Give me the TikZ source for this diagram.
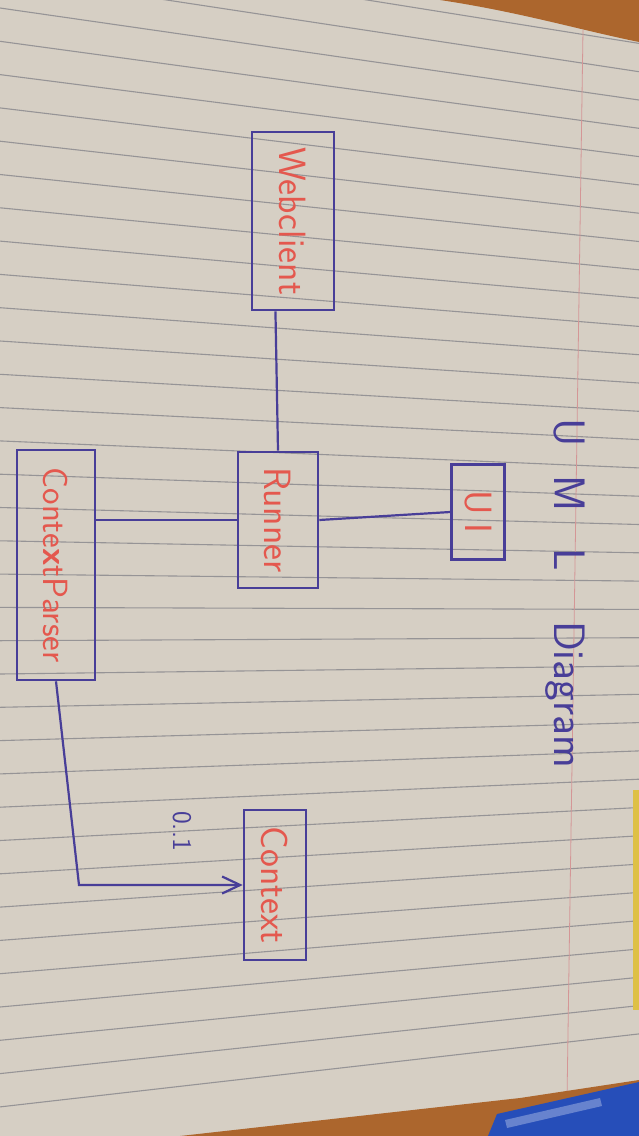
\documentclass[tikz,border=0pt]{standalone}
\usepackage{fontspec}
\usepackage{graphicx}
\usetikzlibrary{arrows.meta, positioning}

\definecolor{paper}{RGB}{214,207,196}
\definecolor{ruleline}{RGB}{150,148,150}
\definecolor{marginred}{RGB}{212,150,150}
\definecolor{wood}{RGB}{172,102,45}
\definecolor{pen}{RGB}{38,78,185}
\definecolor{ink}{RGB}{72,62,152}
\definecolor{redink}{RGB}{228,88,78}
\definecolor{note}{RGB}{222,192,70}

\newcommand{\vlabel}[1]{\rotatebox{-90}{#1}}

\begin{document}
\begin{tikzpicture}[x=1pt, y=-1pt,
 umlbox/.style={rectangle, draw=ink, line width=2.6pt, inner sep=0pt, text=redink, font=\sffamily\fontsize{38}{40}\selectfont},
 link/.style={draw=ink, line width=2.2pt},
 ruled/.style={draw=ruleline, line width=1.1pt},
 ]
 \useasboundingbox (0,0) rectangle (639,1136);
 \clip (0,0) rectangle (639,1136);

 %Paper
 \fill[paper] (0,0) rectangle (639,1136);
 \foreach \i in {-2,...,33}
   \draw[ruled] (0,{8+33.3*\i}) -- (639,{100+28.3*\i});
 \draw[marginred, line width=0.8pt] (583,30) -- (567,1100);
 \fill[note] (633,790) rectangle (639,1010);

 %Table and pen
 \fill[wood] (440,0) .. controls (520,12) and (580,30) .. (639,42) -- (639,0) -- cycle;
 \fill[wood] (180,1136) -- (520,1098) -- (639,1080) -- (639,1136) -- cycle;
 \fill[pen] (488,1136) -- (497,1114) -- (639,1082) -- (639,1136) -- cycle;
 \fill[pen!70!white] (505,1120) -- (600,1098) -- (602,1106) -- (507,1128) -- cycle;

 %Nodes
 \node[umlbox, minimum width=82, minimum height=178] (webclient) at (293,221) {\vlabel{Webclient}};
 \node[umlbox, minimum width=80, minimum height=136] (runner) at (278,520) {\vlabel{Runner}};
 \node[umlbox, minimum width=53, minimum height=95] (ui) at (478,512) {\vlabel{U\hspace{8pt}I}};
 \node[umlbox, minimum width=78, minimum height=230, font=\sffamily\fontsize{35}{38}\selectfont] (cparser) at (56,565) {\vlabel{Conte\textbf{x}tParser}};
 \node[umlbox, minimum width=62, minimum height=150] (context) at (275,885) {\vlabel{Context}};

 \node[rotate=-90, anchor=west, inner sep=0pt, text=ink, font=\sffamily\fontsize{44}{46}\selectfont] (title) at (565,418) {U\hspace{29pt}M\hspace{37pt}L\hspace{50pt}Diagram};
 \node[rotate=-90, inner sep=0pt, text=ink, font=\sffamily\fontsize{27}{29}\selectfont] (mult) at (182,831) {0..1};
 \coordinate (bend) at (79,885);

 %Lines
 \draw[link] (webclient.259) -- (runner.north);
 \draw[link] (runner.east) -- (ui.west);
 \draw[link] (runner.west) -- (runner.west -| cparser.east);
 \draw[link, -{Straight Barb[length=18pt, width=17pt]}] (cparser.south) -- (bend) -- (context.west);
\end{tikzpicture}
\end{document}
